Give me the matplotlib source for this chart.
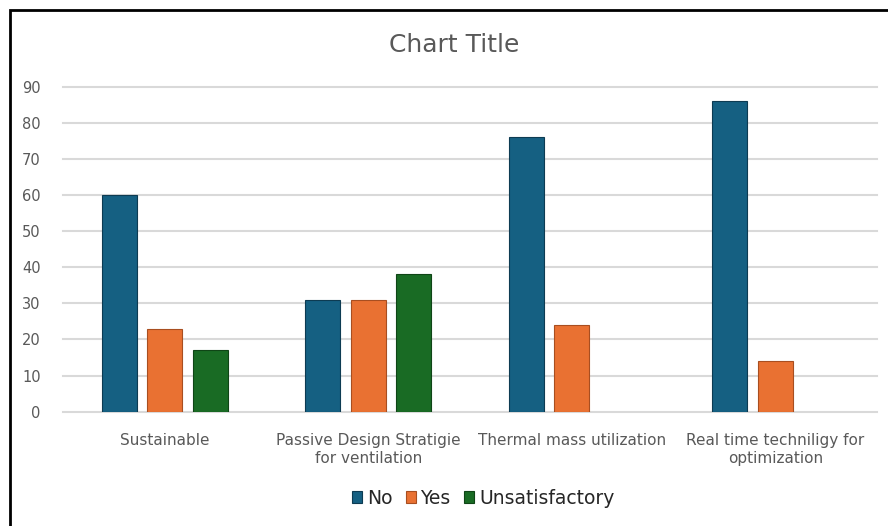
import numpy as np
import matplotlib.pyplot as plt
from matplotlib.patches import Rectangle

categories = ["Sustainable", "Passive Design Stratigie\nfor ventilation",
              "Thermal mass utilization", "Real time techniligy for\noptimization"]
no_vals = [60, 31, 76, 86]
yes_vals = [23, 31, 24, 14]
unsat_vals = [17, 38, 0, 0]

series = [("No", no_vals, "#156082", "#0d3b52"),
          ("Yes", yes_vals, "#E97132", "#a84e20"),
          ("Unsatisfactory", unsat_vals, "#196B24", "#0f4516")]

grey = "#595959"

fig = plt.figure(figsize=(8.88, 5.26), dpi=100)
ax = fig.add_axes([63 / 888, 1 - 411.7 / 526, 814 / 888, 325 / 526])

x = np.arange(len(categories))
width = 0.172
step = 0.223
for i, (name, vals, col, edge) in enumerate(series):
    vals = np.array(vals, dtype=float)
    keep = vals > 0
    ax.bar(x[keep] + (i - 1) * step, vals[keep], width, color=col,
           edgecolor=edge, linewidth=0.8, label=name, zorder=3)

ax.set_xlim(-0.5, len(categories) - 0.5)
ax.set_ylim(0, 90)
ax.set_yticks(range(0, 91, 10))
ax.yaxis.grid(True, color="#d9d9d9", linewidth=1.5, zorder=0)
for gl in ax.get_ygridlines():
    gl.set_clip_on(False)
for s in ax.spines.values():
    s.set_visible(False)
ax.tick_params(length=0)
ax.tick_params(axis="y", labelsize=10.5, labelcolor=grey, pad=16)
ax.set_xticks(x)
ax.set_xticklabels(categories, fontsize=11, color=grey, linespacing=1.3)
ax.tick_params(axis="x", pad=15)

fig.text(0.512, 0.914, "Chart Title", ha="center", va="center",
         fontsize=18, color=grey)

handles, labels = ax.get_legend_handles_labels()
fig.legend(handles, labels, loc="center", bbox_to_anchor=(0.544, 0.053),
           ncol=3, frameon=False, fontsize=13.5, handlelength=0.55,
           handleheight=0.55, handletextpad=0.25, columnspacing=0.7,
           labelcolor="#262626")

# dark border around the chart area
fig.add_artist(Rectangle((9.5 / 888, -0.1), 1.1, 1 - 9.5 / 526 + 0.1,
                         transform=fig.transFigure, fill=False,
                         edgecolor="black", linewidth=2))

fig.savefig("out.png", dpi=100)
